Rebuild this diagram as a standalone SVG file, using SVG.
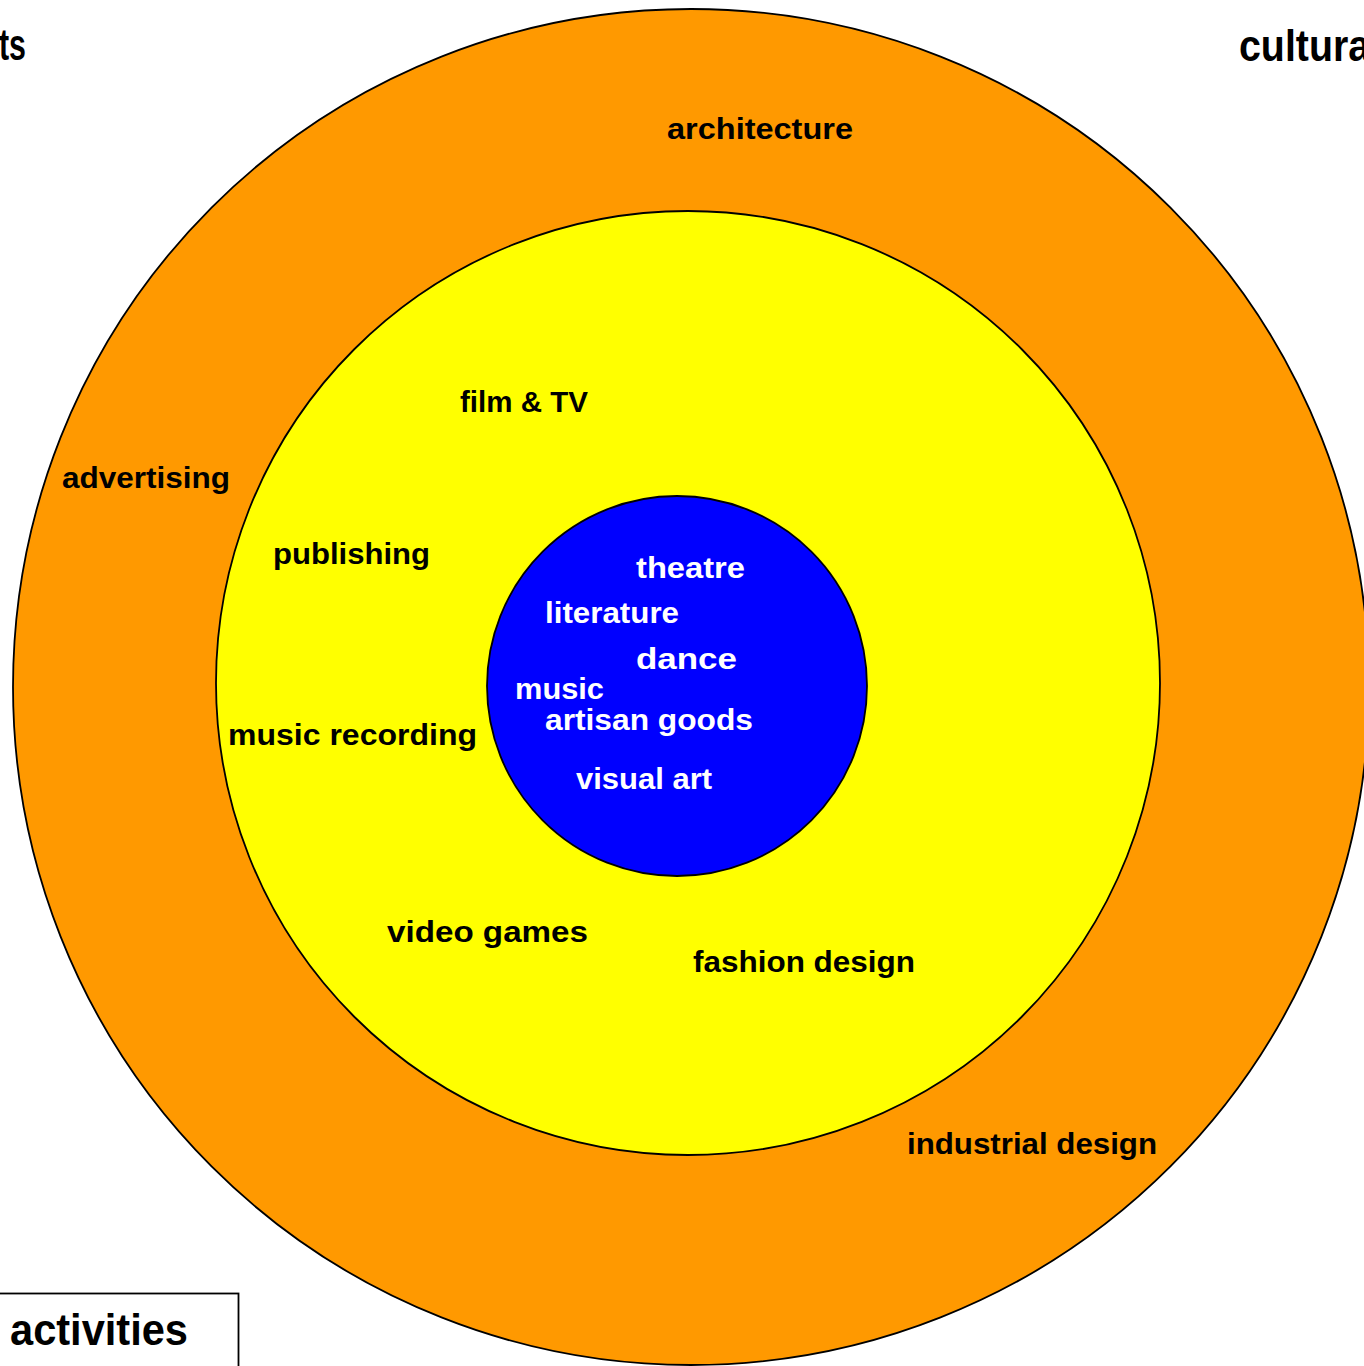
<svg xmlns="http://www.w3.org/2000/svg" width="1364" height="1366" viewBox="0 0 1364 1366">
<style>
.ring{stroke:#000;stroke-width:1.8}
.lbl{font-family:"Liberation Sans",Arial,sans-serif;font-weight:bold;font-size:30px;fill:#000}
.wht{fill:#fff}
.big{font-family:"Liberation Sans",Arial,sans-serif;font-weight:bold;font-size:44px;fill:#000}
</style>
<rect x="0" y="0" width="1364" height="1366" fill="#fff"/>
<g id="title-left"><text class="big" x="-1" y="60" textLength="27" lengthAdjust="spacingAndGlyphs">ts</text></g>
<g id="title-right"><text class="big" x="1239" y="61" textLength="142" lengthAdjust="spacingAndGlyphs">cultural</text></g>
<g id="outer-ring">
<circle class="ring" cx="691" cy="687" r="678" fill="#FF9900"/>
</g>
<g id="middle-ring">
<circle class="ring" cx="688" cy="683" r="472" fill="#FFFF00"/>
</g>
<g id="core">
<circle class="ring" cx="677" cy="686" r="190" fill="#0000FF"/>
</g>
<g id="outer-labels">
<text class="lbl" x="667" y="139" textLength="186" lengthAdjust="spacingAndGlyphs">architecture</text>
<text class="lbl" x="62" y="488" textLength="168" lengthAdjust="spacingAndGlyphs">advertising</text>
<text class="lbl" x="907" y="1154" textLength="250" lengthAdjust="spacingAndGlyphs">industrial design</text>
</g>
<g id="middle-labels">
<text class="lbl" x="460" y="412" textLength="128" lengthAdjust="spacingAndGlyphs">film &amp; TV</text>
<text class="lbl" x="273" y="564" textLength="157" lengthAdjust="spacingAndGlyphs">publishing</text>
<text class="lbl" x="228" y="745" textLength="249" lengthAdjust="spacingAndGlyphs">music recording</text>
<text class="lbl" x="387" y="942" textLength="201" lengthAdjust="spacingAndGlyphs">video games</text>
<text class="lbl" x="693" y="972" textLength="222" lengthAdjust="spacingAndGlyphs">fashion design</text>
</g>
<g id="core-labels">
<text class="lbl wht" x="636" y="578" textLength="109" lengthAdjust="spacingAndGlyphs">theatre</text>
<text class="lbl wht" x="545" y="623" textLength="134" lengthAdjust="spacingAndGlyphs">literature</text>
<text class="lbl wht" x="636" y="669" textLength="101" lengthAdjust="spacingAndGlyphs">dance</text>
<text class="lbl wht" x="515" y="699" textLength="89" lengthAdjust="spacingAndGlyphs">music</text>
<text class="lbl wht" x="545" y="730" textLength="208" lengthAdjust="spacingAndGlyphs">artisan goods</text>
<text class="lbl wht" x="576" y="789" textLength="136" lengthAdjust="spacingAndGlyphs">visual art</text>
</g>
<g id="activities-box">
<rect x="-10" y="1293.5" width="248.5" height="100" fill="#fff" stroke="#000" stroke-width="1.8"/>
<text class="big" x="10" y="1345" textLength="178" lengthAdjust="spacingAndGlyphs">activities</text>
</g>
</svg>
